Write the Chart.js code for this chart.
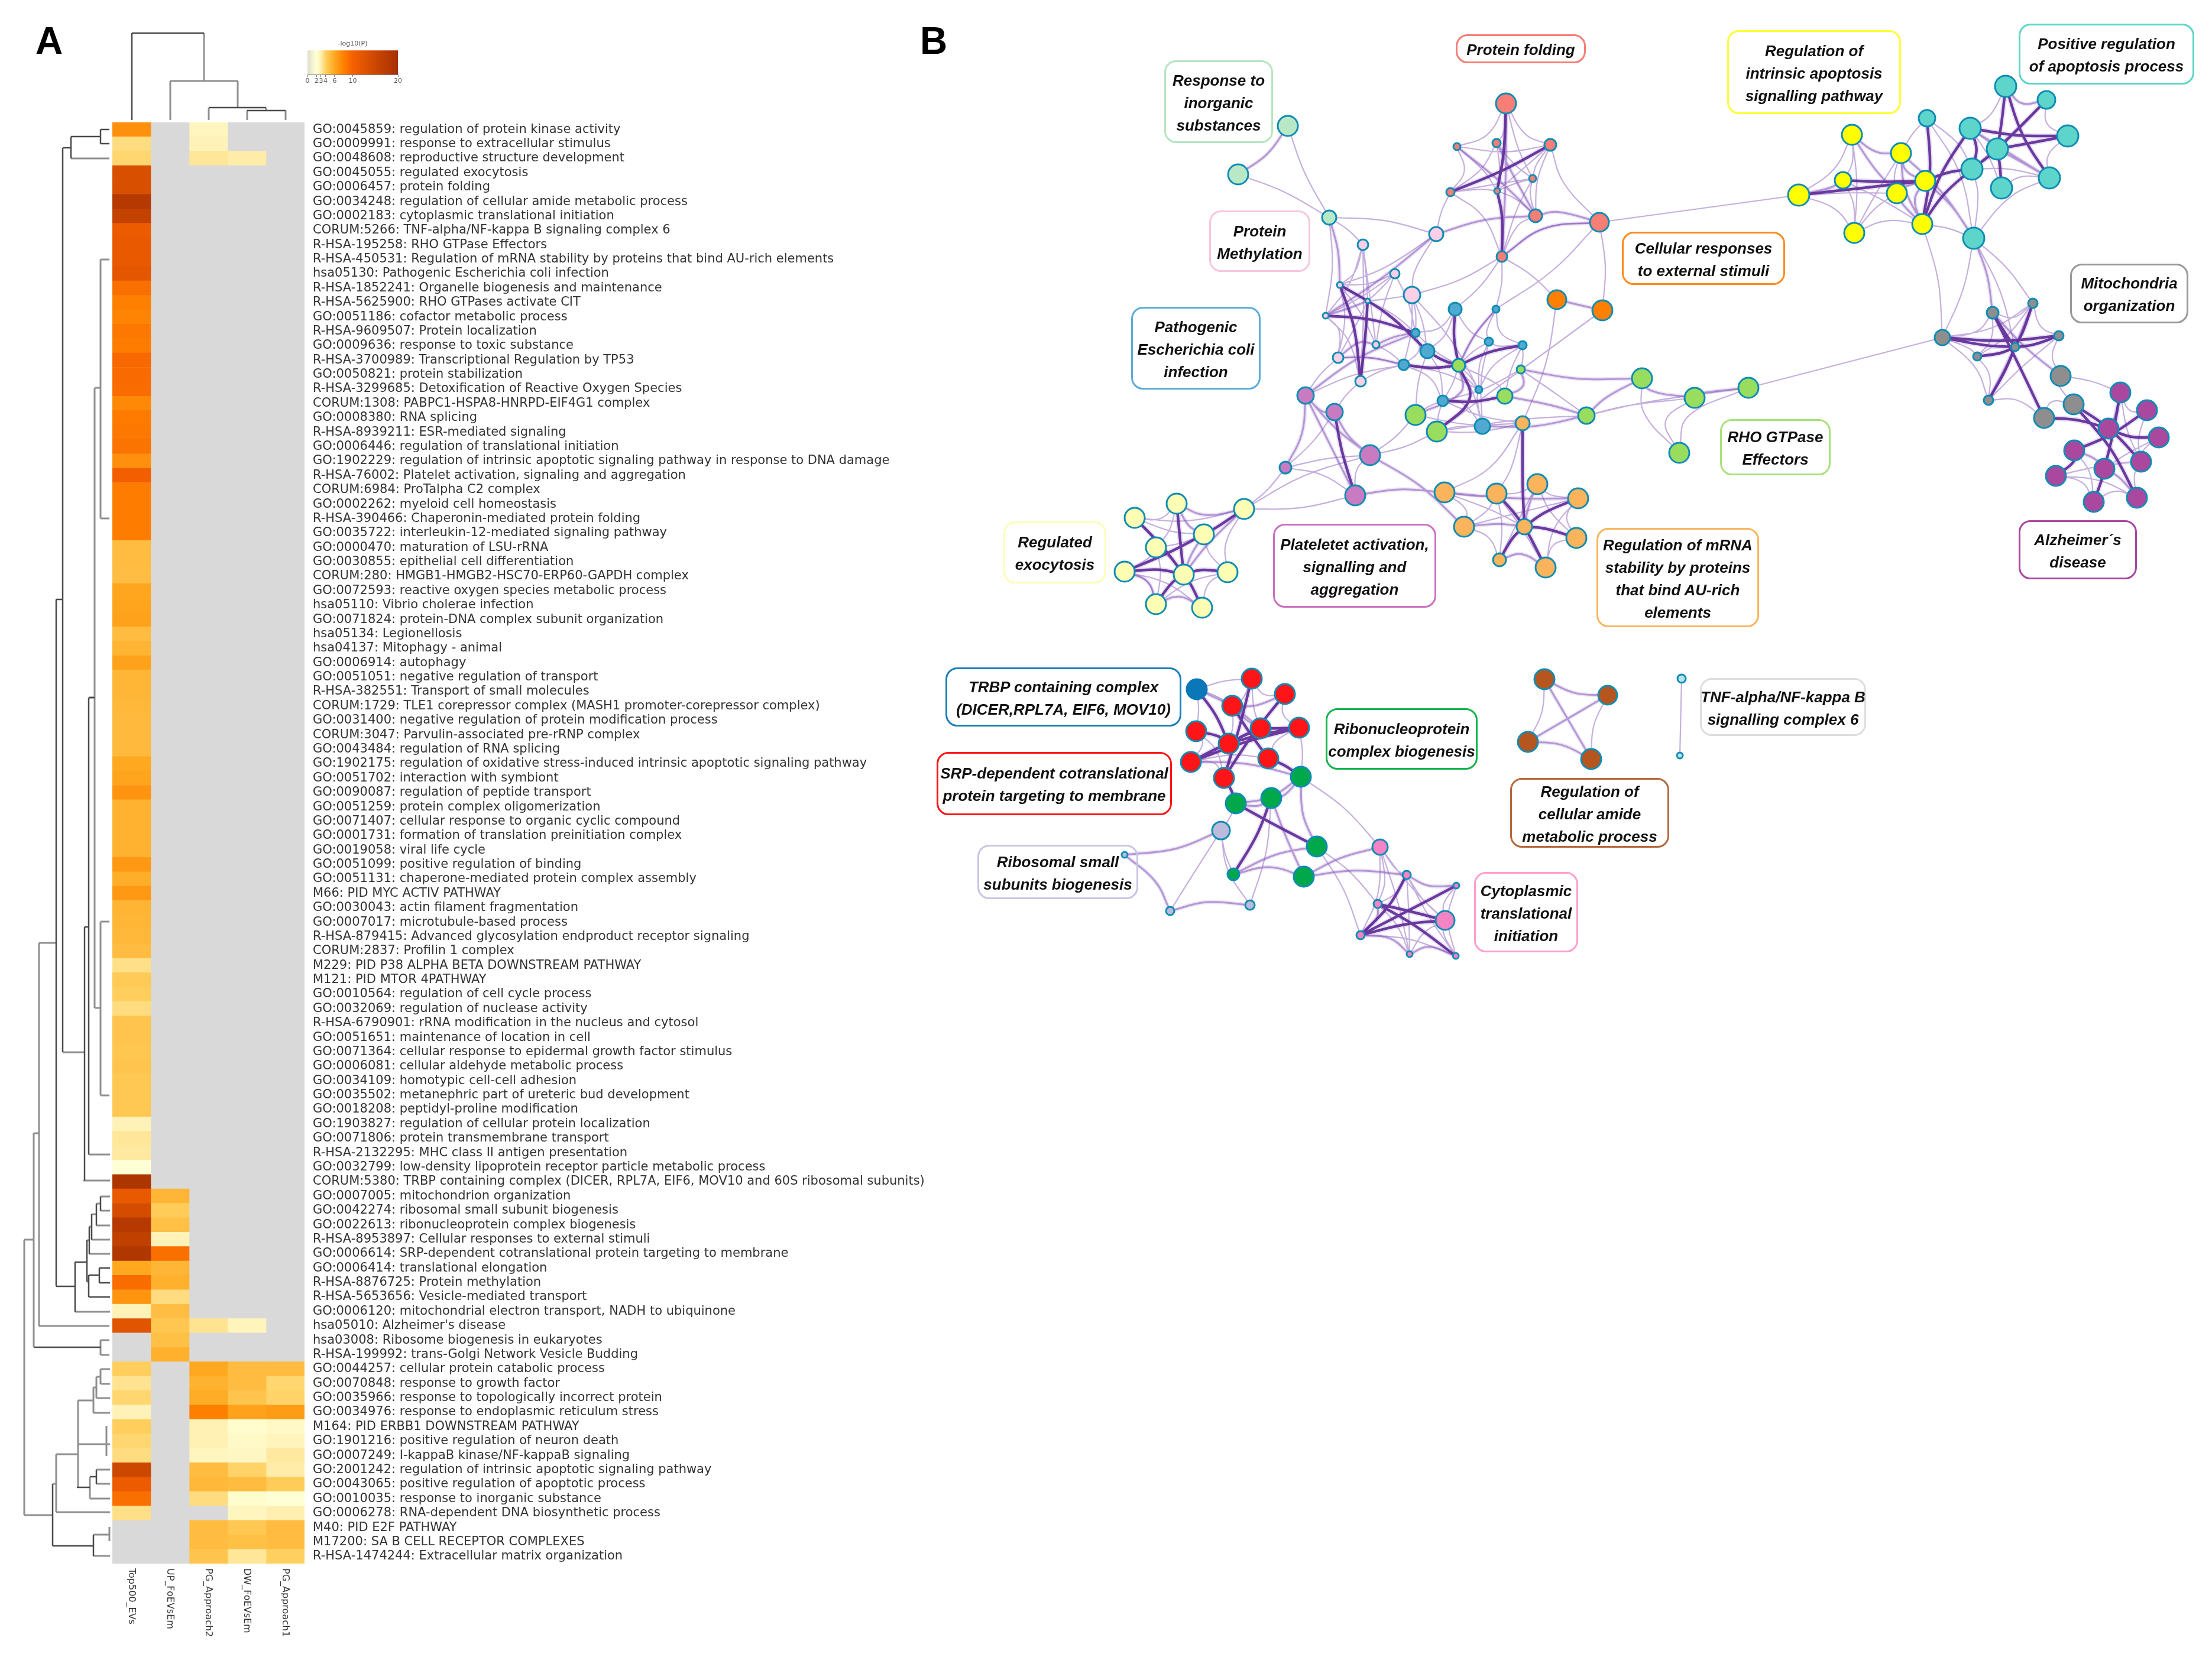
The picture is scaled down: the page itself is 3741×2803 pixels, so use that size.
<!DOCTYPE html>
<html>
<head>
<meta charset="utf-8">
<script src="https://cdn.jsdelivr.net/npm/chart.js"></script>
<style>
  html, body { margin: 0; padding: 0; background: #fff; }
  #page { position: relative; width: 3741px; height: 2803px; overflow: hidden; }
  canvas { position: absolute; }
  .panel { position: absolute; font: bold 64px "Liberation Sans", sans-serif; color: #000; line-height: 64px; }
  .box { position: absolute; box-sizing: border-box; display: flex; align-items: center; justify-content: center;
         text-align: center; white-space: nowrap; background: transparent; border-style: solid; border-width: 3px;
         border-radius: 20px; padding-top: 3px; font: italic bold 26px/38px "Liberation Sans", sans-serif; color: #111; }
</style>
</head>
<body>
<div id="page">
  <canvas id="networkChart" width="3741" height="2803" style="left:0;top:0"></canvas>
  <canvas id="heatChart" width="1400" height="2618" style="left:190px;top:207px"></canvas>
  <canvas id="barChart" width="190" height="95" style="left:505px;top:55px"></canvas>
  <div class="panel" style="left:60px;top:37px">A</div>
  <div class="panel" style="left:1556px;top:37px">B</div>
</div>
<script>
var termLabels = [
  "GO:0045859: regulation of protein kinase activity","GO:0009991: response to extracellular stimulus","GO:0048608: reproductive structure development","GO:0045055: regulated exocytosis","GO:0006457: protein folding",
  "GO:0034248: regulation of cellular amide metabolic process","GO:0002183: cytoplasmic translational initiation","CORUM:5266: TNF-alpha/NF-kappa B signaling complex 6","R-HSA-195258: RHO GTPase Effectors","R-HSA-450531: Regulation of mRNA stability by proteins that bind AU-rich elements",
  "hsa05130: Pathogenic Escherichia coli infection","R-HSA-1852241: Organelle biogenesis and maintenance","R-HSA-5625900: RHO GTPases activate CIT","GO:0051186: cofactor metabolic process","R-HSA-9609507: Protein localization",
  "GO:0009636: response to toxic substance","R-HSA-3700989: Transcriptional Regulation by TP53","GO:0050821: protein stabilization","R-HSA-3299685: Detoxification of Reactive Oxygen Species","CORUM:1308: PABPC1-HSPA8-HNRPD-EIF4G1 complex",
  "GO:0008380: RNA splicing","R-HSA-8939211: ESR-mediated signaling","GO:0006446: regulation of translational initiation","GO:1902229: regulation of intrinsic apoptotic signaling pathway in response to DNA damage","R-HSA-76002: Platelet activation, signaling and aggregation",
  "CORUM:6984: ProTalpha C2 complex","GO:0002262: myeloid cell homeostasis","R-HSA-390466: Chaperonin-mediated protein folding","GO:0035722: interleukin-12-mediated signaling pathway","GO:0000470: maturation of LSU-rRNA",
  "GO:0030855: epithelial cell differentiation","CORUM:280: HMGB1-HMGB2-HSC70-ERP60-GAPDH complex","GO:0072593: reactive oxygen species metabolic process","hsa05110: Vibrio cholerae infection","GO:0071824: protein-DNA complex subunit organization",
  "hsa05134: Legionellosis","hsa04137: Mitophagy - animal","GO:0006914: autophagy","GO:0051051: negative regulation of transport","R-HSA-382551: Transport of small molecules",
  "CORUM:1729: TLE1 corepressor complex (MASH1 promoter-corepressor complex)","GO:0031400: negative regulation of protein modification process","CORUM:3047: Parvulin-associated pre-rRNP complex","GO:0043484: regulation of RNA splicing","GO:1902175: regulation of oxidative stress-induced intrinsic apoptotic signaling pathway",
  "GO:0051702: interaction with symbiont","GO:0090087: regulation of peptide transport","GO:0051259: protein complex oligomerization","GO:0071407: cellular response to organic cyclic compound","GO:0001731: formation of translation preinitiation complex",
  "GO:0019058: viral life cycle","GO:0051099: positive regulation of binding","GO:0051131: chaperone-mediated protein complex assembly","M66: PID MYC ACTIV PATHWAY","GO:0030043: actin filament fragmentation",
  "GO:0007017: microtubule-based process","R-HSA-879415: Advanced glycosylation endproduct receptor signaling","CORUM:2837: Profilin 1 complex","M229: PID P38 ALPHA BETA DOWNSTREAM PATHWAY","M121: PID MTOR 4PATHWAY",
  "GO:0010564: regulation of cell cycle process","GO:0032069: regulation of nuclease activity","R-HSA-6790901: rRNA modification in the nucleus and cytosol","GO:0051651: maintenance of location in cell","GO:0071364: cellular response to epidermal growth factor stimulus",
  "GO:0006081: cellular aldehyde metabolic process","GO:0034109: homotypic cell-cell adhesion","GO:0035502: metanephric part of ureteric bud development","GO:0018208: peptidyl-proline modification","GO:1903827: regulation of cellular protein localization",
  "GO:0071806: protein transmembrane transport","R-HSA-2132295: MHC class II antigen presentation","GO:0032799: low-density lipoprotein receptor particle metabolic process","CORUM:5380: TRBP containing complex (DICER, RPL7A, EIF6, MOV10 and 60S ribosomal subunits)","GO:0007005: mitochondrion organization",
  "GO:0042274: ribosomal small subunit biogenesis","GO:0022613: ribonucleoprotein complex biogenesis","R-HSA-8953897: Cellular responses to external stimuli","GO:0006614: SRP-dependent cotranslational protein targeting to membrane","GO:0006414: translational elongation",
  "R-HSA-8876725: Protein methylation","R-HSA-5653656: Vesicle-mediated transport","GO:0006120: mitochondrial electron transport, NADH to ubiquinone","hsa05010: Alzheimer's disease","hsa03008: Ribosome biogenesis in eukaryotes",
  "R-HSA-199992: trans-Golgi Network Vesicle Budding","GO:0044257: cellular protein catabolic process","GO:0070848: response to growth factor","GO:0035966: response to topologically incorrect protein","GO:0034976: response to endoplasmic reticulum stress",
  "M164: PID ERBB1 DOWNSTREAM PATHWAY","GO:1901216: positive regulation of neuron death","GO:0007249: I-kappaB kinase/NF-kappaB signaling","GO:2001242: regulation of intrinsic apoptotic signaling pathway","GO:0043065: positive regulation of apoptotic process",
  "GO:0010035: response to inorganic substance","GO:0006278: RNA-dependent DNA biosynthetic process","M40: PID E2F PATHWAY","M17200: SA B CELL RECEPTOR COMPLEXES","R-HSA-1474244: Extracellular matrix organization"
];
var columnNames = ["Top500_EVs", "UP_FoEVsEm", "PG_Approach2", "DW_FoEVsEm", "PG_Approach1"];

// -log10(P), null = no enrichment (grey)
var top500Values = [7.2,3.6,3.8,13.5,13.5,18,16,11,11.5,11.5,12,9,8,7.8,8.5,8.2,9.5,9.3,9.2,7.6,8.3,8.5,8.8,7.2,10.2,8.2,8.2,8.2,8.2,5,5,4.9,6.1,6.2,6.3,5,5.4,6.3,5.3,5.3,5.2,5.1,5.1,5.1,6,6.2,7,5.5,5.5,5.5,5.5,6.8,5.7,6.8,5.4,5.3,5.2,5,3.5,4.3,4.1,3.6,4.6,4.6,4.5,4.6,4.4,4.4,4.4,2.8,3.3,3.2,2,19,11.5,14,18,16.5,18.5,6,9.2,7,2.8,12.5,null,null,4.1,3.4,3.8,2.8,4.1,3.8,3.6,15,11,9,3.5,null,null,null];
var upValues = new Array(74).fill(null).concat([5.3,4.2,4.8,2.8,9,5.3,5.6,3.6,4.9,4.5,4.8,5.6]).concat(new Array(14).fill(null));
var approach2Values = [2.6,2.8,3.3].concat(new Array(80).fill(null)).concat([3.4,null,null,6,5.5,5.8,8,2.9,2.9,2.6,5,5.2,3.6,null,5,5,4.6]);
var dwValues = [null,null,3.1].concat(new Array(80).fill(null)).concat([2.7,null,null,5,5,4.6,6.3,2.2,2.4,2.5,3.9,5,2.2,2.6,4.4,4.8,3.3]);
var approach1Values = new Array(86).fill(null).concat([5,3.8,3.9,6.6,2.4,2.7,3.2,3.1,4.2,2,3,5,5,4]);
var heatColumns = [top500Values, upValues, approach2Values, dwValues, approach1Values];

var colorTicks = [0, 2, 3, 4, 6, 10, 20];
var colorStopValues = [0, 1, 2, 3, 4, 6, 8, 10, 15, 20];
var colorStopColors = ["#dcdcd0", "#f2f2d0", "#ffffd6", "#ffefb0", "#ffd060", "#ffa820", "#ff8000", "#f56000", "#cc4700", "#a53000"];

// enrichment network nodes
var nodeX = [2178,2094,2248, 2305,2429,2359,2388,2266,2313,2242,2327,2263,2301, 2547,2464,2531,2622,2592,2453,2532,2597,2540,2705, 2633,2710,
  3132,3215,3117,3256,3042,3208,3251,3136, 3392,3461,3259,3332,3497,3378,3335,3385,3466,3338, 3370,3438,3285,3482,3408,3344,3363,3485,3507,3457,
  3586,3631,3566,3651,3508,3621,3477,3559,3541,3614, 2777,2866,2957,2683,2840,2467,2572,2545,2394,2430, 2461,2530,2394,2518,2575,2414,2374,2501,2440,2507,
  2208,2257,2317,2174,2292, 2104,1990,1919,2036,1955,1902,2002,2076,1955,2033, 2575,2443,2531,2600,2476,2578,2536,2614,2669,2666,
  2024, 2117,2173,2084,2023,2132,2197,2078,2014,2145,2070, 2200,2150,2090,2227,2205,2086, 2065,1902,1979,2114, 2334,2379,2463,2330,2444,2301,2384,2462, 2612,2719,2584,2691, 2844,2841];
var nodeY = [213,295,368, 414,396,463,499,482,509,534,583,605,645, 175,248,242,245,302,325,323,365,434,376, 507,525,
  228,259,305,306,330,327,379,394, 146,169,200,217,230,252,286,318,301,403, 529,513,571,568,587,603,677,636,684,707,
  664,694,725,740,762,781,805,793,849,842, 640,673,656,703,766,618,625,670,702,730, 523,523,563,578,584,594,617,659,678,721,
  669,697,770,791,838, 861,852,876,904,926,967,972,968,1022,1028, 716,833,835,819,891,891,947,960,843,910,
  1166, 1148,1174,1194,1237,1232,1231,1258,1289,1283,1316, 1314,1350,1359,1432,1483,1479, 1405,1446,1541,1531, 1433,1480,1498,1529,1557,1582,1614,1617, 1149,1176,1255,1284, 1148,1278];
var nodeSize = [17,17,12, 9,12,8,14,5,4,5,6,9,9, 17,6,7,10,6,7,5,11,9,16, 16,17,
  17,17,14,17,18,17,17,17, 18,15,14,18,18,18,18,18,18,18, 10,8,13,8,7,7,8,17,17,17,
  17,17,17,17,17,17,17,17,17,17, 17,17,17,14,17,11,7,13,17,17, 11,6,7,7,7,12,9,6,9,13,
  14,14,17,10,17, 17,17,17,17,17,17,17,17,17,17, 12,17,17,17,17,13,11,17,17,17,
  17, 17,17,17,17,17,17,17,17,17,17, 17,17,17,17,17,10, 15,5,7,8, 13,7,5,7,16,7,5,5, 17,16,17,17, 7,5];
var nodeCluster = [0,0,0, 1,1,1,1,1,1,1,1,1,1, 2,2,2,2,2,2,2,2,2,2, 3,3,
  4,4,4,4,4,4,4,4, 5,5,5,5,5,5,5,5,5,5, 6,6,6,6,6,6,6,6,6,6,
  7,7,7,7,7,7,7,7,7,7, 8,8,8,8,8,8,8,8,8,8, 9,9,9,9,9,9,9,9,9,9,
  10,10,10,10,10, 11,11,11,11,11,11,11,11,11,11, 12,12,12,12,12,12,12,12,12,12,
  13, 14,14,14,14,14,14,14,14,14,14, 15,15,15,15,15,15, 16,16,16,16, 17,17,17,17,17,17,17,17, 18,18,18,18, 19,19];
var clusterColors = ["#b9e8c6","#fbd0e6","#f87e76","#ff7f00","#ffff00","#5ed5ca","#8e8e8e","#aa479f","#99dd5f","#4fa9d1","#c97bc1","#fdfdb3","#fbb35c","#0a78b8","#ff1418","#00a84c","#bcbbdc","#f683c4","#b5561e","#b9e1ea"];

// edges as node index pairs, by similarity strength
var thinEdges = [0,2,1,2,2,3,2,4,2,9,3,7,3,8,3,9,3,12,4,18,4,7,5,7,5,9,5,8,6,4,6,8,6,80,7,8,8,12,9,11,21,6,3,10,5,10,7,10,7,11,9,12,8,11,8,75,5,75,6,75,6,79,
  13,14,13,16,13,15,14,16,15,17,15,19,16,17,16,19,17,18,17,20,18,19,18,21,19,20,21,22,22,24,21,73,21,74,16,22,21,23,23,98,24,72,22,29,22,74,14,18,14,19,15,18,13,17,16,20,20,21,17,21,19,17,
  29,25,29,32,27,25,27,32,25,27,26,35,26,30,30,32,31,32,31,42,31,45,35,42,36,38,37,41,34,39,39,41,40,41,39,42,41,42,42,45,42,44,42,47,25,32,26,32,27,31,29,30,33,36,34,37,36,40,35,39,
  43,44,45,43,45,48,45,49,44,46,46,50,49,52,48,49,50,51,51,52,50,53,65,45,48,46,44,48,43,48,46,49,45,44,
  53,54,58,62,56,58,59,61,61,62,58,60,63,67,64,67,65,66,65,67,64,66,66,69,69,81,84,86,85,86,85,87,86,87,86,88,87,88,88,85,83,11,84,12,83,79,53,58,54,58,56,60,57,61,58,59,59,62,
  68,74,68,75,68,76,68,80,68,81,68,82,73,75,74,76,75,79,76,80,77,80,79,81,81,82,11,79,10,79,12,79,6,78,73,78,73,76,74,77,76,77,78,80,78,81,79,80,82,76,82,81,80,82,77,69,68,70,70,77,71,81,72,81,71,78,72,82,
  88,90,89,90,90,92,92,93,92,94,91,92,93,96,95,96,95,97,88,95,89,92,90,91,91,95,93,97,92,96,
  98,99,98,100,98,71,98,72,98,81,99,102,99,100,100,102,101,100,101,104,102,104,102,106,105,107,106,107,101,106,100,105,99,103,100,104,101,107,105,106,
  141,142,137,139,138,140,108,109,108,112,109,110,110,114,114,119,116,118,112,116,119,129,122,132,122,134,125,127,125,128,120,128,124,125,121,125,109,111,109,113,110,113,111,115,112,118,114,117,115,118,116,117,108,111,
  129,130,129,132,129,134,130,132,131,136,133,135,133,136,129,135,130,135,130,136,130,133,72,85,71,85,66,72,129,133,131,133,132,135,134,136];
var midEdges = [0,1,2,7,4,9,4,20,9,8,10,75,11,10,11,79,14,20,15,20,20,22,21,22,23,24,13,21,
  25,26,25,30,26,28,28,31,26,31,28,30,30,31,29,27,26,42,28,42,33,34,36,41,38,41,42,43,
  43,50,44,49,57,60,60,62,53,55,63,64,63,66,64,65,66,70,66,82,63,69,
  68,71,69,70,68,74,83,84,83,86,83,85,83,87,84,85,83,75,87,99,85,102,
  88,89,88,94,89,91,91,94,96,97,93,96,
  99,106,101,103,102,103,104,105,103,102,137,138,137,140,138,139,139,140,
  108,113,110,111,111,113,116,119,119,120,119,121,120,121,119,122,122,124,123,124,123,129,123,130,125,126,126,127,127,128,120,123,
  130,131,132,134,134,135,135,136];
var thickEdges = [7,78,9,75,12,8,12,7,68,73,68,77,68,78,68,79,68,72,70,81,13,19,19,21,16,18,
  29,28,27,28,28,39,31,39,31,36,35,31,33,38,34,38,36,37,36,39,37,38,38,39,38,40,33,41,
  45,46,45,47,43,47,44,47,46,47,47,48,47,49,43,52,55,56,57,59,60,61,52,55,51,62,51,58,54,57,53,60,
  84,87,88,91,89,94,90,94,93,94,94,95,94,96,94,97,91,93,
  98,103,100,103,103,104,103,105,103,106,103,107,
  108,115,109,118,110,118,111,117,112,115,113,114,113,115,113,116,114,115,114,116,115,116,117,119,118,121,120,124,121,122,
  130,134,131,134,132,133,132,136,133,134];

// dendrogram segments x1,y1,x2,y2
var dendroDark = [223,56,345,56, 223,56,223,203, 353,182,450,182, 418,187,483,187,
  170,219,170,243, 170,219,185,219, 170,243,185,243, 120,231,170,231, 120,231,120,268, 106,250,120,250, 106,250,106,1780, 95,1014,106,1014,
  95,1014,95,2176, 95,2176,127,2176, 127,2135,127,2219, 127,2135,147,2135, 147,2098,147,2168, 150,2157,150,2194, 150,2157,168,2157,
  168,2145,168,2170, 168,2145,186,2145, 168,2170,186,2170, 150,2194,186,2194, 170,2024,170,2048, 163,2036,163,2073, 155,2054,155,2097, 151,2075,151,2121,
  89,2510,89,2615, 89,2615,158,2615, 158,2596,158,2632, 130,2516,152,2516, 163,2486,163,2510, 152,2498,163,2498, 57,2279,170,2279, 143,1568,150,1568, 143,1568,143,1997, 150,1180,160,1180, 150,1180,150,1953];
var dendroGray = [345,56,345,137, 288,137,402,137, 288,137,288,203, 402,137,402,182, 353,182,353,203, 450,182,450,187, 418,187,418,203, 483,187,483,203,
  120,268,185,268, 170,439,185,439, 170,439,170,877, 170,877,185,877, 160,656,170,656, 160,656,160,1705, 160,1705,170,1705, 170,1559,170,1853, 170,1559,185,1559, 170,1853,185,1853,
  150,1180,160,1180, 150,1953,186,1953, 141,1997,186,1997, 106,1780,143,1780, 66,1595,95,1595, 66,1595,66,2243, 66,2243,185,2243, 57,1917,66,1917, 57,1917,57,2279,
  170,2267,170,2292, 170,2267,185,2267, 170,2292,185,2292, 41,2097,57,2097, 41,2097,41,2563, 41,2563,89,2563,
  127,2219,186,2219, 170,2024,186,2024, 170,2048,186,2048, 163,2036,170,2036, 163,2073,186,2073, 155,2054,163,2054, 155,2097,186,2097, 151,2075,155,2075, 151,2121,186,2121, 147,2098,151,2098, 147,2168,150,2168,
  158,2596,186,2596, 158,2632,186,2632, 185,2583,185,2607, 95,2510,89,2510, 95,2460,95,2558, 95,2558,186,2558, 95,2460,132,2460, 132,2369,132,2516, 132,2443,186,2443, 180,2412,180,2463, 152,2498,152,2535, 152,2535,186,2535, 163,2486,186,2486, 163,2510,186,2510,
  158,2369,132,2369, 158,2347,158,2390, 158,2390,186,2390, 163,2347,158,2347, 163,2329,163,2365, 163,2365,186,2365, 170,2329,163,2329, 170,2316,170,2341, 170,2316,186,2316, 170,2341,186,2341];

// cluster annotation boxes
var boxText = [["Response to","inorganic","substances"],["Protein folding"],["Protein","Methylation"],["Pathogenic","Escherichia coli","infection"],["Regulated","exocytosis"],["Plateletet activation,","signalling and","aggregation"],
  ["Regulation of","intrinsic apoptosis","signalling pathway"],["Positive regulation","of apoptosis process"],["Cellular responses","to external stimuli"],["Mitochondria","organization"],["RHO GTPase","Effectors"],["Alzheimer´s","disease"],
  ["Regulation of mRNA","stability by proteins","that bind AU-rich","elements"],["TNF-alpha/NF-kappa B","signalling complex 6"],["Ribonucleoprotein","complex biogenesis"],["TRBP containing complex","(DICER,RPL7A, EIF6, MOV10)"],["SRP-dependent cotranslational","protein targeting to membrane"],["Ribosomal small","subunits biogenesis"],["Cytoplasmic","translational","initiation"],["Regulation of","cellular amide","metabolic process"]];
var boxRect = [[1969,102,2153,242],[2462,58,2682,107],[2045,356,2216,460],[1913,519,2132,659],[1697,882,1871,987],[2153,886,2429,1028],
  [2921,51,3215,193],[3414,40,3711,143],[2743,392,3019,482],[3501,446,3701,547],[2909,709,3096,804],[3414,880,3614,980],
  [2700,893,2975,1061],[2875,1147,3156,1245],[2242,1198,2499,1302],[1599,1129,1998,1229],[1584,1272,1982,1379],[1653,1429,1925,1521],[2493,1475,2669,1611],[2554,1316,2823,1434]];
var boxColor = ["#b5e5c0","#f77c74","#f9c4de","#5aadd6","#fdfdb5","#cc6fc0","#ffff33","#5dd5c9","#ff8a1c","#999999","#a8e27a","#a9459f","#fbb45c","#dddddd","#14b34f","#1b7fb8","#ff1414","#c8c5e3","#ff9ed0","#b5673a"];

function hexRgb(h) { return [parseInt(h.substr(1,2),16), parseInt(h.substr(3,2),16), parseInt(h.substr(5,2),16)]; }
function heatColor(v) {
  if (v === null || v === undefined) return "#d9d9d9";
  for (var i = 1; i < colorStopValues.length; i++) {
    if (v <= colorStopValues[i]) {
      var t = (v - colorStopValues[i-1]) / (colorStopValues[i] - colorStopValues[i-1]);
      var a = hexRgb(colorStopColors[i-1]), b = hexRgb(colorStopColors[i]);
      return "rgb(" + Math.round(a[0]+(b[0]-a[0])*t) + "," + Math.round(a[1]+(b[1]-a[1])*t) + "," + Math.round(a[2]+(b[2]-a[2])*t) + ")";
    }
  }
  return colorStopColors[colorStopColors.length-1];
}

// ---- heatmap ----
var columnNamePlugin = {
  id: "columnNames",
  afterDraw: function(chart) {
    var c = chart.ctx, sx = chart.scales.x;
    c.save();
    c.font = "16px 'DejaVu Sans'";
    c.fillStyle = "#333";
    c.textBaseline = "middle";
    columnNames.forEach(function(name, i) {
      c.save();
      c.translate(sx.getPixelForValue(i + 0.5), chart.chartArea.bottom + 8);
      c.rotate(Math.PI / 2);
      c.fillText(name, 0, 0);
      c.restore();
    });
    c.restore();
  }
};
var cellWidths = termLabels.map(function() { return 1; });
new Chart(document.getElementById("heatChart"), {
  type: "bar",
  plugins: [columnNamePlugin],
  data: {
    labels: termLabels,
    datasets: heatColumns.map(function(col, k) {
      return {
        label: columnNames[k],
        data: cellWidths,
        backgroundColor: col.map(heatColor),
        borderWidth: 0,
        barPercentage: 1,
        categoryPercentage: 1
      };
    })
  },
  options: {
    indexAxis: "y",
    responsive: false,
    animation: false,
    events: [],
    layout: { autoPadding: false, padding: { bottom: 180 } },
    plugins: { legend: { display: false }, tooltip: { enabled: false } },
    scales: {
      x: { stacked: true, display: false, min: 0, max: 5 },
      y: {
        stacked: true,
        position: "right",
        grid: { display: false, drawTicks: false },
        border: { display: false },
        afterFit: function(scale) { scale.width = 1075; scale.paddingTop = 0; scale.paddingBottom = 0; },
        ticks: { autoSkip: false, padding: 14, color: "#333", font: { family: "DejaVu Sans", size: 21 } }
      }
    }
  }
});

// ---- colour bar ----
new Chart(document.getElementById("barChart"), {
  type: "bar",
  data: {
    labels: ["-log10(P)"],
    datasets: [{
      data: [20],
      borderWidth: 0,
      barPercentage: 1,
      categoryPercentage: 1,
      backgroundColor: function(ctx) {
        var a = ctx.chart.chartArea;
        if (!a) return "#ccc";
        var g = ctx.chart.ctx.createLinearGradient(a.left, 0, a.right, 0);
        colorStopValues.forEach(function(v, i) { g.addColorStop(v / 20, colorStopColors[i]); });
        return g;
      }
    }]
  },
  options: {
    indexAxis: "y",
    responsive: false,
    animation: false,
    events: [],
    layout: { autoPadding: false, padding: { left: 15, right: 22 } },
    plugins: {
      legend: { display: false },
      tooltip: { enabled: false },
      title: { display: true, text: "-log10(P)", color: "#555", font: { family: "DejaVu Sans", size: 11, weight: "normal" }, padding: { top: 13, bottom: 4 } }
    },
    scales: {
      y: { display: false },
      x: {
        min: 0,
        max: 20,
        afterBuildTicks: function(scale) { scale.ticks = colorTicks.map(function(v) { return { value: v }; }); },
        afterFit: function(scale) { scale.height = 24; scale.paddingLeft = 0; scale.paddingRight = 0; },
        grid: { drawOnChartArea: false, tickLength: 4, color: "#777" },
        border: { color: "#888" },
        ticks: { autoSkip: false, maxRotation: 0, padding: 1, color: "#555", font: { family: "DejaVu Sans", size: 11 }, callback: function(v) { return v; } }
      }
    }
  }
});

// ---- network + dendrograms ----
var hubX = [], hubY = [];
clusterColors.forEach(function(_, c) {
  var sx = 0, sy = 0, n = 0;
  nodeCluster.forEach(function(k, i) { if (k === c) { sx += nodeX[i]; sy += nodeY[i]; n++; } });
  hubX.push(sx / n); hubY.push(sy / n);
});
function edgePoints(pairs) {
  var pts = [];
  for (var i = 0; i < pairs.length; i += 2) {
    var a = pairs[i], b = pairs[i+1];
    var mx = (nodeX[a] + nodeX[b]) / 2, my = (nodeY[a] + nodeY[b]) / 2;
    var dx = nodeX[b] - nodeX[a], dy = nodeY[b] - nodeY[a], len = Math.sqrt(dx*dx + dy*dy);
    if (nodeCluster[a] === nodeCluster[b]) {
      var c = nodeCluster[a];
      mx += (hubX[c] - mx) * 0.18; my += (hubY[c] - my) * 0.18;
    } else if (len < 300) {
      mx += dy * 0.05; my -= dx * 0.05;
    }
    pts.push({x: nodeX[a], y: nodeY[a]}, {x: mx, y: my}, {x: nodeX[b], y: nodeY[b]}, {x: null, y: null});
  }
  return pts;
}
function segmentPoints(flat) {
  var pts = [];
  for (var i = 0; i < flat.length; i += 4) {
    pts.push({x: flat[i], y: flat[i+1]}, {x: flat[i+2], y: flat[i+3]}, {x: null, y: null});
  }
  return pts;
}
var nodeSets = clusterColors.map(function(col, c) {
  var idx = [];
  nodeCluster.forEach(function(k, i) { if (k === c) idx.push(i); });
  return {
    data: idx.map(function(i) { return {x: nodeX[i], y: nodeY[i]}; }),
    pointRadius: idx.map(function(i) { return nodeSize[i]; }),
    pointBackgroundColor: col,
    pointBorderColor: c === 13 ? "#0a78b8" : "#0f8cb4",
    pointBorderWidth: 3,
    showLine: false,
    order: 1
  };
});
function lineSet(points, color, width, tension) {
  return { data: points, showLine: true, borderColor: color, borderWidth: width, tension: tension, pointRadius: 0, order: 5 };
}
new Chart(document.getElementById("networkChart"), {
  type: "scatter",
  data: {
    datasets: nodeSets.concat([
      lineSet(edgePoints(thickEdges), "rgba(92,40,150,0.9)", 4.5, 0.4),
      lineSet(edgePoints(midEdges), "rgba(135,85,185,0.55)", 3, 0.4),
      lineSet(edgePoints(thinEdges), "rgba(150,110,195,0.55)", 2.2, 0.4),
      lineSet(edgePoints(midEdges), "rgba(180,155,220,0.25)", 7, 0.4),
      lineSet(edgePoints(thickEdges), "rgba(180,155,220,0.3)", 9, 0.4),
      lineSet(segmentPoints(dendroDark), "#4a4a4a", 2.5, 0),
      lineSet(segmentPoints(dendroGray), "#8f8f8f", 3, 0)
    ])
  },
  options: {
    responsive: false,
    animation: false,
    events: [],
    layout: { autoPadding: false },
    plugins: { legend: { display: false }, tooltip: { enabled: false } },
    scales: {
      x: { display: false, min: 0, max: 3741 },
      y: { display: false, min: 0, max: 2803, reverse: true }
    }
  }
});

// ---- labels ----
var page = document.getElementById("page");
boxText.forEach(function(lines, i) {
  var d = document.createElement("div");
  var r = boxRect[i];
  d.className = "box";
  d.style.cssText = "left:" + r[0] + "px;top:" + r[1] + "px;width:" + (r[2]-r[0]) + "px;height:" + (r[3]-r[1]) + "px;border-color:" + boxColor[i];
  d.innerHTML = lines.join("<br>");
  page.appendChild(d);
});
</script>
</body>
</html>
